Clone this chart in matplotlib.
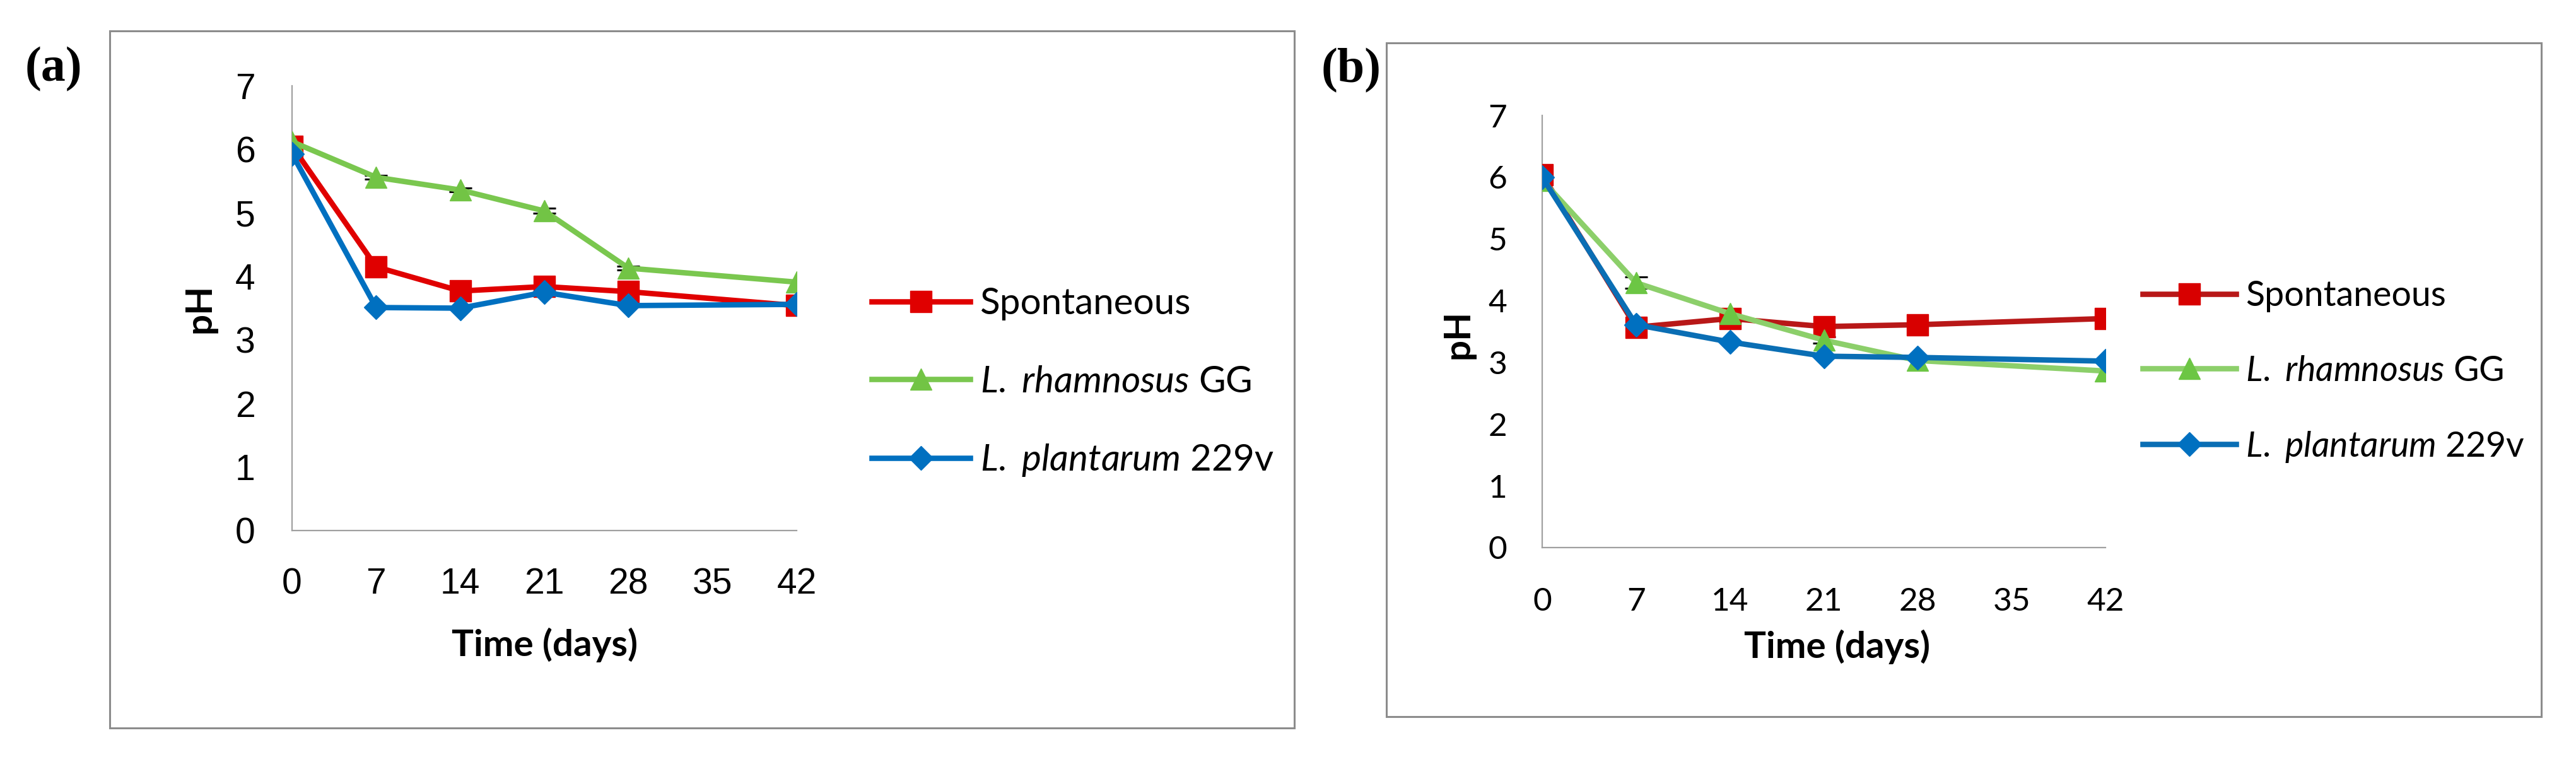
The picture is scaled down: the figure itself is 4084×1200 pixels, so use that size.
import numpy as np
import matplotlib
matplotlib.use("Agg")
import matplotlib.pyplot as plt
from matplotlib.patches import Rectangle

plt.rcParams['mathtext.fontset'] = 'custom'
plt.rcParams['mathtext.rm'] = 'Lato'
plt.rcParams['mathtext.it'] = 'Lato:italic'

# sampling days (x axis ticks run 0..42 in steps of 7)
days = [0, 7, 14, 21, 28, 42]
xticks = [0, 7, 14, 21, 28, 35, 42]
yticks = [0, 1, 2, 3, 4, 5, 6, 7]

labels = ["Spontaneous", r"$\mathit{L.}$ $\mathit{rhamnosus}$ GG",
          r"$\mathit{L.}$ $\mathit{plantarum}$ 229v"]

# panel (a)
a_spont = [6.05, 4.15, 3.77, 3.84, 3.76, 3.54]
a_rham = [6.12, 5.56, 5.36, 5.03, 4.13, 3.91]
a_plant = [5.93, 3.51, 3.50, 3.75, 3.54, 3.56]
a_rham_err = [0.0, 0.03, 0.03, 0.04, 0.03, 0.0]

# panel (b)
b_spont = [6.04, 3.57, 3.71, 3.58, 3.61, 3.71]
b_rham = [5.95, 4.29, 3.79, 3.36, 3.03, 2.86]
b_plant = [6.00, 3.61, 3.33, 3.10, 3.08, 3.02]
b_rham_err = [0.0, 0.09, 0.0, 0.05, 0.0, 0.0]

W, H = 4084, 1200
fig = plt.figure(figsize=(W / 100, H / 100), dpi=100)


def frame(x0, y0, x1, y1):
    fig.add_artist(Rectangle((x0 / W, 1 - y1 / H), (x1 - x0) / W, (y1 - y0) / H,
                             transform=fig.transFigure, fill=False,
                             ec="#8c8c8c", lw=2.2))


def axes_px(x0, y0, x1, y1):
    return fig.add_axes([x0 / W, 1 - y1 / H, (x1 - x0) / W, (y1 - y0) / H])


def panel(ax, series, colors, err, tickfont, ticksize, xpad, ypad):
    markers = ["s", "^", "D"]
    msizes = [25, 25, 19]
    for vals, (lc, mc), m, ms, lab in zip(series, colors, markers, msizes, labels):
        ax.plot(days, vals, color=lc, lw=6.2, marker=m, ms=ms, mfc=mc, mec=mc,
                label=lab, zorder=3, solid_joinstyle="round")
    # small error bars on L. rhamnosus
    idx = [i for i, e in enumerate(err) if e > 0]
    ax.errorbar([days[i] for i in idx], [series[1][i] for i in idx],
                yerr=[err[i] for i in idx], fmt="none", ecolor="black",
                elinewidth=1.5, capsize=13, capthick=2.2, zorder=2)
    ax.set_xlim(0, 42)
    ax.set_ylim(0, 7)
    ax.set_xticks(xticks)
    ax.set_yticks(yticks)
    for s in ["top", "right"]:
        ax.spines[s].set_visible(False)
    for s in ["left", "bottom"]:
        ax.spines[s].set_color("#a0a0a0")
        ax.spines[s].set_linewidth(1.6)
    ax.tick_params(axis="x", length=0, pad=xpad)
    ax.tick_params(axis="y", length=0, pad=ypad)
    for t in ax.get_xticklabels() + ax.get_yticklabels():
        t.set_fontfamily(tickfont)
        t.set_fontsize(ticksize)
    ax.patch.set_alpha(0)


# ---- panel (a) ----
frame(174, 49, 2052, 1154)
fig.text(85 / W, 1 - 110 / H, "(a)", family="Liberation Serif", weight="bold",
         size=56, ha="center", va="center")
axa = axes_px(463, 136, 1263, 841)
panel(axa, [a_spont, a_rham, a_plant],
      [("#e00000", "#e00000"), ("#7ac74f", "#72c445"), ("#0070c0", "#0070c0")],
      a_rham_err, "Liberation Sans", 41, 42, 42)
axa.set_xlabel("Time (days)", family="Lato", weight="bold", size=42, va="center")
axa.xaxis.set_label_coords(0.5, -0.257)
axa.set_ylabel("pH", family="Lato", weight="bold", size=42, va="center")
axa.yaxis.set_label_coords(-0.1825, 0.5)
axa.legend(loc="center left", bbox_to_anchor=(1382 / W, 1 - 607 / H),
           bbox_transform=fig.transFigure, frameon=False, numpoints=1,
           prop={"family": "Lato", "size": 42}, handlelength=2.68,
           handletextpad=0.26, labelspacing=1.2, borderpad=0, borderaxespad=0)

# ---- panel (b) ----
frame(2198, 68, 4029, 1136)
fig.text(2142 / W, 1 - 112 / H, "(b)", family="Liberation Serif", weight="bold",
         size=56, ha="center", va="center")
axb = axes_px(2445, 183, 3338, 868)
panel(axb, [b_spont, b_rham, b_plant],
      [("#b81818", "#d80000"), ("#8ccf6a", "#6cc644"), ("#0a6eb4", "#0070c0")],
      b_rham_err, "Lato", 37, 45, 40)
axb.set_xlabel("Time (days)", family="Lato", weight="bold", size=42, va="center")
axb.xaxis.set_label_coords(0.524, -0.23)
axb.set_ylabel("pH", family="Lato", weight="bold", size=42, va="center")
axb.yaxis.set_label_coords(-0.149, 0.493)
axb.legend(loc="center left", bbox_to_anchor=(3397 / W, 1 - 590 / H),
           bbox_transform=fig.transFigure, frameon=False, numpoints=1,
           prop={"family": "Lato", "size": 40}, handlelength=2.66,
           handletextpad=0.27, labelspacing=1.21, borderpad=0, borderaxespad=0)

fig.savefig("out.png", dpi=100, facecolor="white")
